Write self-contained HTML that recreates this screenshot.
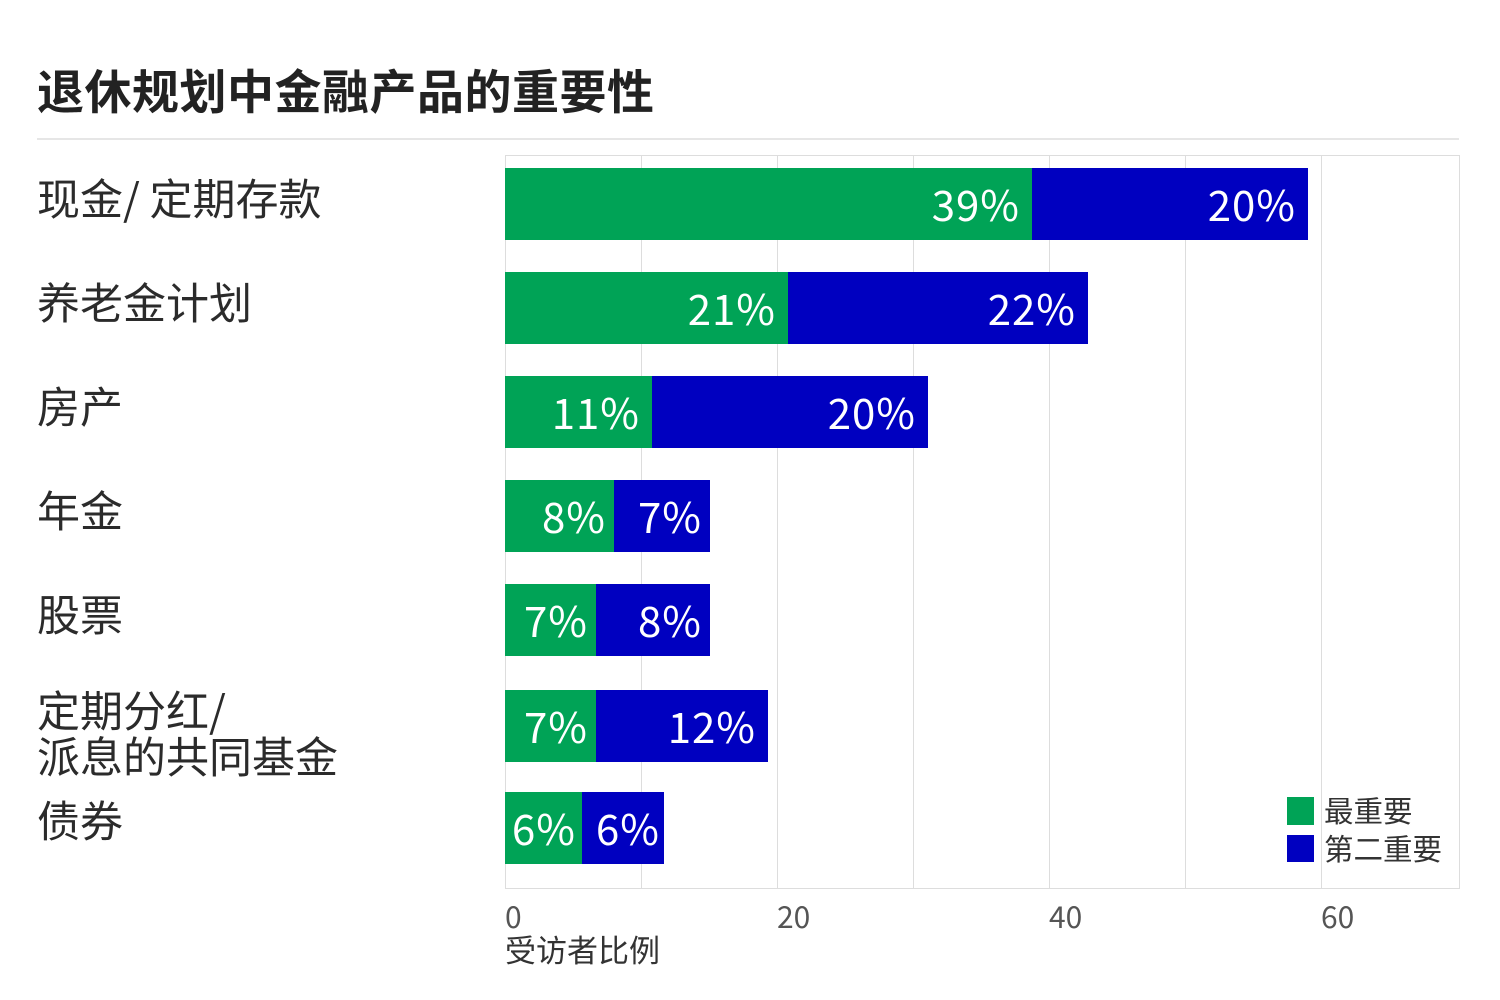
<!DOCTYPE html>
<html><head><meta charset="utf-8"><style>
body{margin:0;width:1500px;height:1000px;background:#fff;position:relative;overflow:hidden;font-family:"Noto Sans CJK SC","Liberation Sans",sans-serif;}
div{position:absolute;}
.cat{left:37px;font-size:43px;color:#2b2b2b;line-height:46px;white-space:nowrap;}
.g{background:#00a356;}
.b{background:#0000c0;}
.bar{height:72px;}
.lbl{color:#fff;font-size:42px;line-height:72px;text-align:right;padding-right:12px;box-sizing:border-box;letter-spacing:1px;}
.grid{top:155px;height:733px;width:1px;background:#ddd;}
.tick{top:895px;font-size:30px;color:#555;line-height:40px;}
</style></head><body>
<div style="left:37px;top:59px;font-size:47px;font-weight:bold;color:#222;line-height:60px;letter-spacing:0.5px;">退休规划中金融产品的重要性</div>
<div style="left:37px;top:138px;width:1422px;height:2px;background:#e6e6e6;"></div>
<div style="left:505px;top:155px;width:953px;height:732px;border:1px solid #ddd;"></div>
<div class="grid" style="left:641px"></div>
<div class="grid" style="left:777px"></div>
<div class="grid" style="left:913px"></div>
<div class="grid" style="left:1049px"></div>
<div class="grid" style="left:1185px"></div>
<div class="grid" style="left:1321px"></div>

<div class="cat" style="top:174px">现金/ 定期存款</div>
<div class="cat" style="top:278px">养老金计划</div>
<div class="cat" style="top:382px">房产</div>
<div class="cat" style="top:486px">年金</div>
<div class="cat" style="top:590px">股票</div>
<div class="cat" style="top:686px">定期分红/<br>派息的共同基金</div>
<div class="cat" style="top:796px">债券</div>

<div class="bar g lbl" style="left:505px;top:168px;width:527px">39%</div>
<div class="bar b lbl" style="left:1032px;top:168px;width:276px">20%</div>
<div class="bar g lbl" style="left:505px;top:272px;width:283px">21%</div>
<div class="bar b lbl" style="left:788px;top:272px;width:300px">22%</div>
<div class="bar g lbl" style="left:505px;top:376px;width:147px">11%</div>
<div class="bar b lbl" style="left:652px;top:376px;width:276px">20%</div>
<div class="bar g lbl" style="left:505px;top:480px;width:109px;padding-right:8px">8%</div>
<div class="bar b lbl" style="left:614px;top:480px;width:96px;padding-right:8px">7%</div>
<div class="bar g lbl" style="left:505px;top:584px;width:91px;padding-right:8px">7%</div>
<div class="bar b lbl" style="left:596px;top:584px;width:114px;padding-right:8px">8%</div>
<div class="bar g lbl" style="left:505px;top:690px;width:91px;padding-right:8px">7%</div>
<div class="bar b lbl" style="left:596px;top:690px;width:172px">12%</div>
<div class="bar g lbl" style="left:505px;top:792px;width:77px;padding-right:6px">6%</div>
<div class="bar b lbl" style="left:582px;top:792px;width:82px;padding-right:4px">6%</div>

<div class="g" style="left:1287px;top:797px;width:27px;height:28px"></div>
<div class="b" style="left:1287px;top:835px;width:27px;height:27px"></div>
<div style="left:1324px;top:791px;font-size:29.5px;color:#333;line-height:38px">最重要</div>
<div style="left:1324px;top:829px;font-size:29.5px;color:#333;line-height:38px">第二重要</div>

<div class="tick" style="left:505px">0</div>
<div class="tick" style="left:777px">20</div>
<div class="tick" style="left:1049px">40</div>
<div class="tick" style="left:1321px">60</div>
<div style="left:505px;top:929px;font-size:31px;color:#333;line-height:40px">受访者比例</div>
</body></html>
